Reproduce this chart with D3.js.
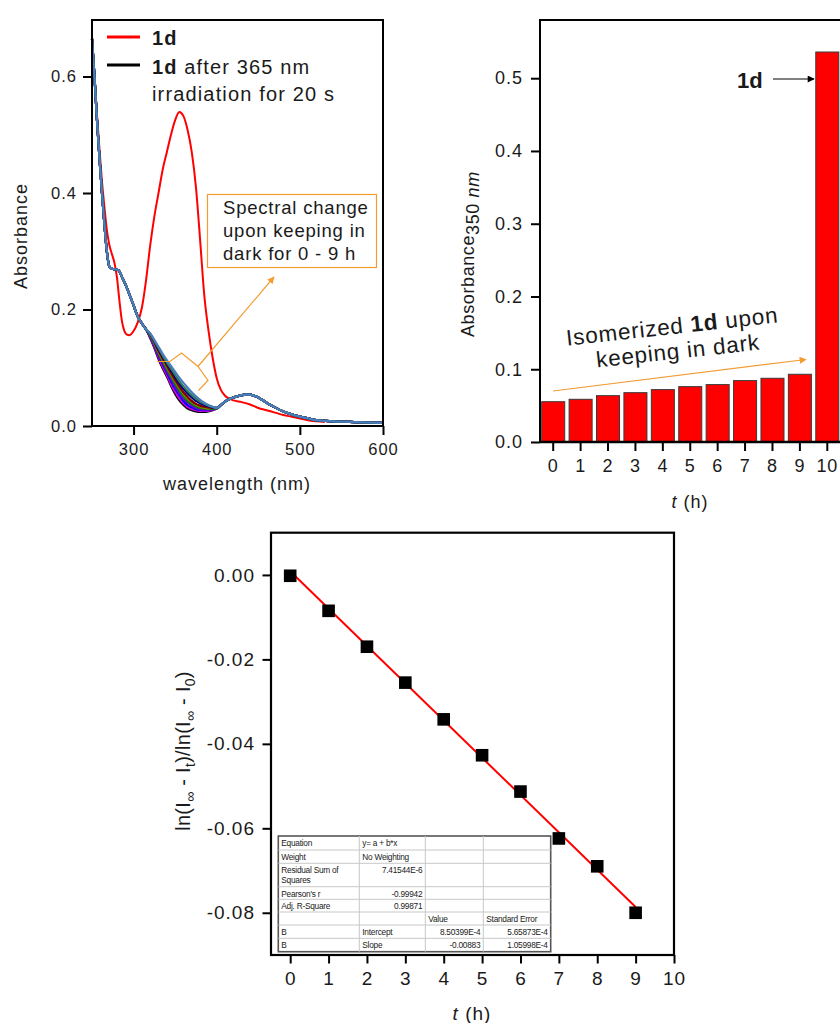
<!DOCTYPE html>
<html><head><meta charset="utf-8">
<script src="https://cdn.jsdelivr.net/npm/d3@7"></script>
<style>
body{margin:0;background:#fff}
svg{display:block}
text{font-family:'Liberation Sans',Arial,sans-serif;fill:#1a1a1a}
</style>
</head><body>
<svg id="c" width="840" height="1023"></svg>
<script>
// ---------------- DATA ----------------
// Panel A: UV-vis spectra
const redWl  = [250,253,256,259,262,265,268,271,274,277,280,283,286,289,292,295,300,305,310,315,320,325,330,335,340,345,350,355,360,365,370,375,380,385,390,395,400,405,410,415,420,430,440,450,460,470,480,490,500,510,520,530];
const redAbs = [0.665,0.60,0.535,0.475,0.42,0.375,0.335,0.31,0.295,0.28,0.255,0.215,0.18,0.163,0.157,0.156,0.163,0.178,0.203,0.25,0.31,0.36,0.40,0.44,0.47,0.50,0.525,0.539,0.532,0.508,0.47,0.41,0.32,0.225,0.165,0.118,0.082,0.062,0.052,0.047,0.044,0.041,0.037,0.031,0.027,0.023,0.019,0.016,0.013,0.010,0.008,0.007];

const specWlA     = [250,253,256,259,262,265,268,271,274,278,282,286,290,295,300,305,310,315];
const specCommonA = [0.665,0.60,0.525,0.46,0.40,0.345,0.298,0.273,0.270,0.269,0.267,0.256,0.244,0.226,0.207,0.188,0.176,0.166];
const darkWl = [320,325,330,335,340,345,350,355,360,365,370,375,380,385,390,395,400];
const dark0h = [0.151,0.134,0.115,0.099,0.085,0.069,0.055,0.044,0.036,0.030,0.027,0.025,0.024,0.024,0.025,0.027,0.030];
const dark1h = [0.152,0.136,0.118,0.102,0.088,0.072,0.059,0.048,0.039,0.033,0.029,0.027,0.026,0.026,0.026,0.028,0.030];
const dark2h = [0.153,0.138,0.121,0.106,0.092,0.077,0.064,0.053,0.043,0.036,0.032,0.029,0.028,0.027,0.027,0.029,0.030];
const dark3h = [0.154,0.139,0.123,0.108,0.095,0.081,0.068,0.057,0.047,0.040,0.035,0.031,0.029,0.028,0.028,0.029,0.030];
const dark4h = [0.155,0.141,0.125,0.111,0.098,0.085,0.072,0.061,0.051,0.043,0.038,0.034,0.031,0.030,0.029,0.030,0.030];
const dark5h = [0.156,0.142,0.127,0.114,0.101,0.088,0.076,0.065,0.055,0.047,0.041,0.036,0.033,0.031,0.030,0.031,0.031];
const dark6h = [0.157,0.144,0.129,0.116,0.104,0.091,0.079,0.068,0.058,0.050,0.043,0.038,0.035,0.033,0.032,0.031,0.031];
const dark7h = [0.158,0.145,0.132,0.119,0.107,0.096,0.084,0.073,0.064,0.056,0.049,0.043,0.039,0.036,0.034,0.032,0.031];
const dark8h = [0.158,0.146,0.134,0.121,0.109,0.099,0.088,0.077,0.068,0.060,0.053,0.047,0.042,0.038,0.035,0.033,0.031];
const dark9h = [0.159,0.148,0.136,0.124,0.113,0.103,0.093,0.083,0.074,0.066,0.058,0.051,0.045,0.040,0.036,0.033,0.031];
const specWlB     = [405,410,415,420,425,430,435,440,445,450,460,470,480,490,500,510,520,540,560,580,600];
const specCommonB = [0.036,0.042,0.046,0.049,0.051,0.053,0.054,0.054,0.052,0.049,0.040,0.032,0.025,0.020,0.016,0.013,0.010,0.008,0.007,0.006,0.0055];
const darkSeries = [dark0h,dark1h,dark2h,dark3h,dark4h,dark5h,dark6h,dark7h,dark8h,dark9h];
const darkColors = ['#000000','#e000e0','#0000ff','#7a00d0','#008000','#808000','#800000','#000080','#2e7d5b','#4a7dbb'];
const specXTicks = [300,400,500,600];
const specYTicks = [0,0.2,0.4,0.6];
const specYLabels = ['0.0','0.2','0.4','0.6'];

// Panel B: absorbance at 350 nm
const barHours = [0,1,2,3,4,5,6,7,8,9,10];
const barAbs   = [0.0554,0.0587,0.0637,0.0678,0.0720,0.0761,0.0789,0.0844,0.0876,0.0931,0.536];
const barYTicks = [0,0.1,0.2,0.3,0.4,0.5];
const barYLabels = ['0.0','0.1','0.2','0.3','0.4','0.5'];

// Panel C: kinetics
const kinT = [0,1,2,3,4,5,6,7,8,9];
const kinY = [-0.0002,-0.0085,-0.0170,-0.0255,-0.0342,-0.0427,-0.0513,-0.0624,-0.0690,-0.0800];
const fitT = [0,9];
const fitY = [0.00085,-0.07862];
const kinXTicks = [0,1,2,3,4,5,6,7,8,9,10];
const kinYTicks = [0,-0.02,-0.04,-0.06,-0.08];
const kinYLabels = ['0.00','-0.02','-0.04','-0.06','-0.08'];
const tableRows = [
  ['Equation','y= a + b*x','',''],
  ['Weight','No Weighting','',''],
  ['Residual Sum of|Squares','7.41544E-6','',''],
  ["Pearson's r",'-0.99942','',''],
  ['Adj. R-Square','0.99871','',''],
  ['','','Value','Standard Error'],
  ['B','Intercept','8.50399E-4','5.65873E-4'],
  ['B','Slope','-0.00883','1.05998E-4']
];

// ---------------- DRAW ----------------
const svg = d3.select('#c');
svg.append('rect').attr('width',840).attr('height',1023).attr('fill','#fff');
const defs = svg.append('defs');
function marker(id,color,w,h){
  defs.append('marker').attr('id',id).attr('viewBox','0 0 10 10').attr('refX',9).attr('refY',5)
    .attr('markerWidth',w).attr('markerHeight',h).attr('markerUnits','userSpaceOnUse').attr('orient','auto')
    .append('path').attr('d','M0,0L10,5L0,10Z').attr('fill',color);
}
marker('arO','#f39c33',9,7);
marker('arK','#000',10,7);
const ORANGE='#f39c33';

function styleAxis(g,fs,ls){
  g.select('.domain').remove();
  g.selectAll('.tick line').attr('stroke','#000').attr('stroke-width',2);
  g.selectAll('.tick text').attr('font-size',fs).attr('letter-spacing',ls).attr('fill','#1a1a1a')
   .style('font-family',"'Liberation Sans',Arial,sans-serif");
}

// ===== Panel A =====
const ax = d3.scaleLinear().domain([250,600]).range([92,383]);
const ay = d3.scaleLinear().domain([0,0.697]).range([426,20]);
const aLine = d3.line().x(d=>ax(d[0])).y(d=>ay(d[1])).curve(d3.curveMonotoneX);
const gA = svg.append('g');
gA.append('path').datum(redWl.map((w,i)=>[w,redAbs[i]])).attr('d',aLine)
  .attr('fill','none').attr('stroke','#ff0000').attr('stroke-width',2);
darkSeries.forEach((s,k)=>{
  const wl = specWlA.concat(darkWl,specWlB);
  const v = specCommonA.concat(s,specCommonB);
  gA.append('path').datum(wl.map((w,i)=>[w,v[i]])).attr('d',aLine)
    .attr('fill','none').attr('stroke',darkColors[k]).attr('stroke-width',2.2);
});
gA.append('rect').attr('x',92).attr('y',20).attr('width',291).attr('height',406)
  .attr('fill','none').attr('stroke','#000').attr('stroke-width',2);
const axA = svg.append('g').attr('transform','translate(0,426)')
  .call(d3.axisBottom(ax).tickValues(specXTicks).tickSize(9).tickPadding(8).tickFormat(d3.format('d')));
styleAxis(axA,16.5,1);
const ayA = svg.append('g').attr('transform','translate(92,0)')
  .call(d3.axisLeft(ay).tickValues(specYTicks).tickSize(9).tickPadding(6).tickFormat((d,i)=>specYLabels[i]));
styleAxis(ayA,16.5,1);
svg.append('text').attr('x',237).attr('y',490).attr('text-anchor','middle').attr('font-size',18)
  .attr('letter-spacing',1).text('wavelength (nm)');
svg.append('text').attr('transform','translate(27,236) rotate(-90)').attr('text-anchor','middle')
  .attr('font-size',18).attr('letter-spacing',1).text('Absorbance');
// legend
svg.append('line').attr('x1',107).attr('x2',140).attr('y1',37).attr('y2',37).attr('stroke','#ff0000').attr('stroke-width',3);
svg.append('line').attr('x1',107).attr('x2',140).attr('y1',65).attr('y2',65).attr('stroke','#000').attr('stroke-width',3);
svg.append('text').attr('x',152).attr('y',45).attr('font-size',20).attr('font-weight','bold').attr('letter-spacing',1.1).text('1d');
const lt = svg.append('text').attr('x',152).attr('y',74).attr('font-size',20).attr('letter-spacing',1.15);
lt.append('tspan').attr('font-weight','bold').text('1d');
lt.append('tspan').text(' after 365 nm');
svg.append('text').attr('x',152).attr('y',101).attr('font-size',20).attr('letter-spacing',1.15).text('irradiation for 20 s');
// annotation box
svg.append('rect').attr('x',207.5).attr('y',194.5).attr('width',169).attr('height',73)
  .attr('fill','#fff').attr('stroke',ORANGE).attr('stroke-width',1.2);
['Spectral change','upon keeping in','dark for 0 - 9 h'].forEach((t,i)=>{
  svg.append('text').attr('x',223).attr('y',213.5+i*23.3).attr('font-size',18.5).attr('letter-spacing',0.8).text(t);
});
svg.append('path').attr('d','M157,361.5L170,361.5L181.5,353L198,366.5L208,380.5L198.5,390.5')
  .attr('fill','none').attr('stroke',ORANGE).attr('stroke-width',1.2);
svg.append('line').attr('x1',198).attr('y1',366.5).attr('x2',274).attr('y2',277)
  .attr('stroke',ORANGE).attr('stroke-width',1.2).attr('marker-end','url(#arO)');

// ===== Panel B =====
const bx = d3.scaleBand().domain(barHours).range([539.5,841]).paddingInner(0.16).paddingOuter(0.08);
const by = d3.scaleLinear().domain([0,0.58]).range([442,20]);
svg.append('g').selectAll('rect').data(barHours).join('rect')
  .attr('x',d=>bx(d)).attr('width',bx.bandwidth())
  .attr('y',(d,i)=>by(barAbs[i])).attr('height',(d,i)=>by(0)-by(barAbs[i]))
  .attr('fill','#ff0000').attr('stroke','#3a3a3a').attr('stroke-width',1);
svg.append('path').attr('d','M540,442L540,20L842,20').attr('fill','none').attr('stroke','#000').attr('stroke-width',2);
svg.append('line').attr('x1',540).attr('x2',842).attr('y1',442).attr('y2',442).attr('stroke','#000').attr('stroke-width',2.5);
const axB = svg.append('g').attr('transform','translate(0,442)')
  .call(d3.axisBottom(bx).tickSize(9).tickPadding(8));
styleAxis(axB,18,0.8);
const ayB = svg.append('g').attr('transform','translate(540,0)')
  .call(d3.axisLeft(by).tickValues(barYTicks).tickSize(9).tickPadding(8).tickFormat((d,i)=>barYLabels[i]));
styleAxis(ayB,18,1);
const tB = svg.append('text').attr('x',690).attr('y',508).attr('text-anchor','middle').attr('font-size',18).attr('letter-spacing',1);
tB.append('tspan').attr('font-style','italic').text('t');
tB.append('tspan').text(' (h)');
const ylB = svg.append('text').attr('transform','translate(474,337) rotate(-90)').attr('font-size',18).attr('letter-spacing',0.6);
ylB.append('tspan').text('Absorbance');
ylB.append('tspan').attr('dy',5).text('350 ');
ylB.append('tspan').attr('font-style','italic').text('nm');
svg.append('text').attr('x',737).attr('y',88).attr('font-size',22).attr('font-weight','bold').text('1d');
svg.append('line').attr('x1',773).attr('x2',814).attr('y1',79).attr('y2',79).attr('stroke','#000').attr('stroke-width',1)
  .attr('marker-end','url(#arK)');
const rot = svg.append('g').attr('transform','translate(673,334) rotate(-6.3)');
const r1 = rot.append('text').attr('x',0).attr('y',0).attr('text-anchor','middle').attr('font-size',22.5).attr('letter-spacing',0.8);
r1.append('tspan').text('Isomerized ');
r1.append('tspan').attr('font-weight','bold').text('1d');
r1.append('tspan').text(' upon');
rot.append('text').attr('x',3).attr('y',25).attr('text-anchor','middle').attr('font-size',22.5).attr('letter-spacing',0.8).text('keeping in dark');
svg.append('line').attr('x1',553).attr('y1',391).attr('x2',806).attr('y2',359.5)
  .attr('stroke',ORANGE).attr('stroke-width',1.2).attr('marker-end','url(#arO)');

// ===== Panel C =====
const cx = d3.scaleLinear().domain([-0.5,10]).range([271,674]);
const cy = d3.scaleLinear().domain([-0.09,0.01]).range([955,532.7]);
svg.append('rect').attr('x',271).attr('y',532.7).attr('width',403).attr('height',422.3)
  .attr('fill','none').attr('stroke','#000').attr('stroke-width',2.2);
const axC = svg.append('g').attr('transform','translate(0,955)')
  .call(d3.axisBottom(cx).tickValues(kinXTicks).tickSize(8.5).tickPadding(8).tickFormat(d3.format('d')));
styleAxis(axC,19,1);
const ayC = svg.append('g').attr('transform','translate(271,0)')
  .call(d3.axisLeft(cy).tickValues(kinYTicks).tickSize(8.5).tickPadding(7.5).tickFormat((d,i)=>kinYLabels[i]));
styleAxis(ayC,19,1);

// table
const colEdges = [278.3,359.3,425.3,483.3,550.7];
const rowEdges = [836,850,863.3,886.7,899.3,912,925,938.3,951.7];
const gT = svg.append('g');
gT.append('rect').attr('x',colEdges[0]).attr('y',rowEdges[0]).attr('width',colEdges[4]-colEdges[0]).attr('height',rowEdges[8]-rowEdges[0])
  .attr('fill','#fff').attr('stroke','#555').attr('stroke-width',1.6);
colEdges.slice(1,4).forEach(x=>gT.append('line').attr('x1',x).attr('x2',x).attr('y1',rowEdges[0]).attr('y2',rowEdges[8]).attr('stroke','#c8c8c8').attr('stroke-width',1));
rowEdges.slice(1,8).forEach(y=>gT.append('line').attr('x1',colEdges[0]).attr('x2',colEdges[4]).attr('y1',y).attr('y2',y).attr('stroke','#c8c8c8').attr('stroke-width',1));
tableRows.forEach((row,ri)=>{
  row.forEach((cell,ci)=>{
    if(!cell) return;
    const numeric = /^-?[0-9]/.test(cell);
    const lines = cell.split('|');
    lines.forEach((ln,li)=>{
      gT.append('text')
        .attr('x', numeric ? colEdges[ci+1]-3 : colEdges[ci]+3)
        .attr('y', rowEdges[ri]+10+li*10)
        .attr('text-anchor', numeric ? 'end' : 'start')
        .attr('font-size',8.3).attr('letter-spacing',-0.25).attr('fill','#333').text(ln);
    });
  });
});

// fit line and points
svg.append('path').datum(fitT.map((t,i)=>[t,fitY[i]]))
  .attr('d',d3.line().x(d=>cx(d[0])).y(d=>cy(d[1])))
  .attr('stroke','#ff0000').attr('stroke-width',2).attr('fill','none');
svg.append('g').selectAll('rect').data(kinT).join('rect')
  .attr('x',(d)=>cx(d)-6.3).attr('y',(d,i)=>cy(kinY[i])-6.3).attr('width',12.6).attr('height',12.6).attr('fill','#000');

const tC = svg.append('text').attr('x',472).attr('y',1020).attr('text-anchor','middle').attr('font-size',19).attr('letter-spacing',1);
tC.append('tspan').attr('font-style','italic').text('t');
tC.append('tspan').text(' (h)');
const ylC = svg.append('text').attr('transform','translate(190,751) rotate(-90)').attr('text-anchor','middle').attr('font-size',20).attr('letter-spacing',0.3);
ylC.append('tspan').text('ln(I');
ylC.append('tspan').attr('dy',5).attr('font-size',14).text('∞');
ylC.append('tspan').attr('dy',-5).text(' - I');
ylC.append('tspan').attr('dy',5).attr('font-size',14).text('t');
ylC.append('tspan').attr('dy',-5).text(')/ln(I');
ylC.append('tspan').attr('dy',5).attr('font-size',14).text('∞');
ylC.append('tspan').attr('dy',-5).text(' - I');
ylC.append('tspan').attr('dy',5).attr('font-size',14).text('0');
ylC.append('tspan').attr('dy',-5).text(')');
</script>
</body></html>
